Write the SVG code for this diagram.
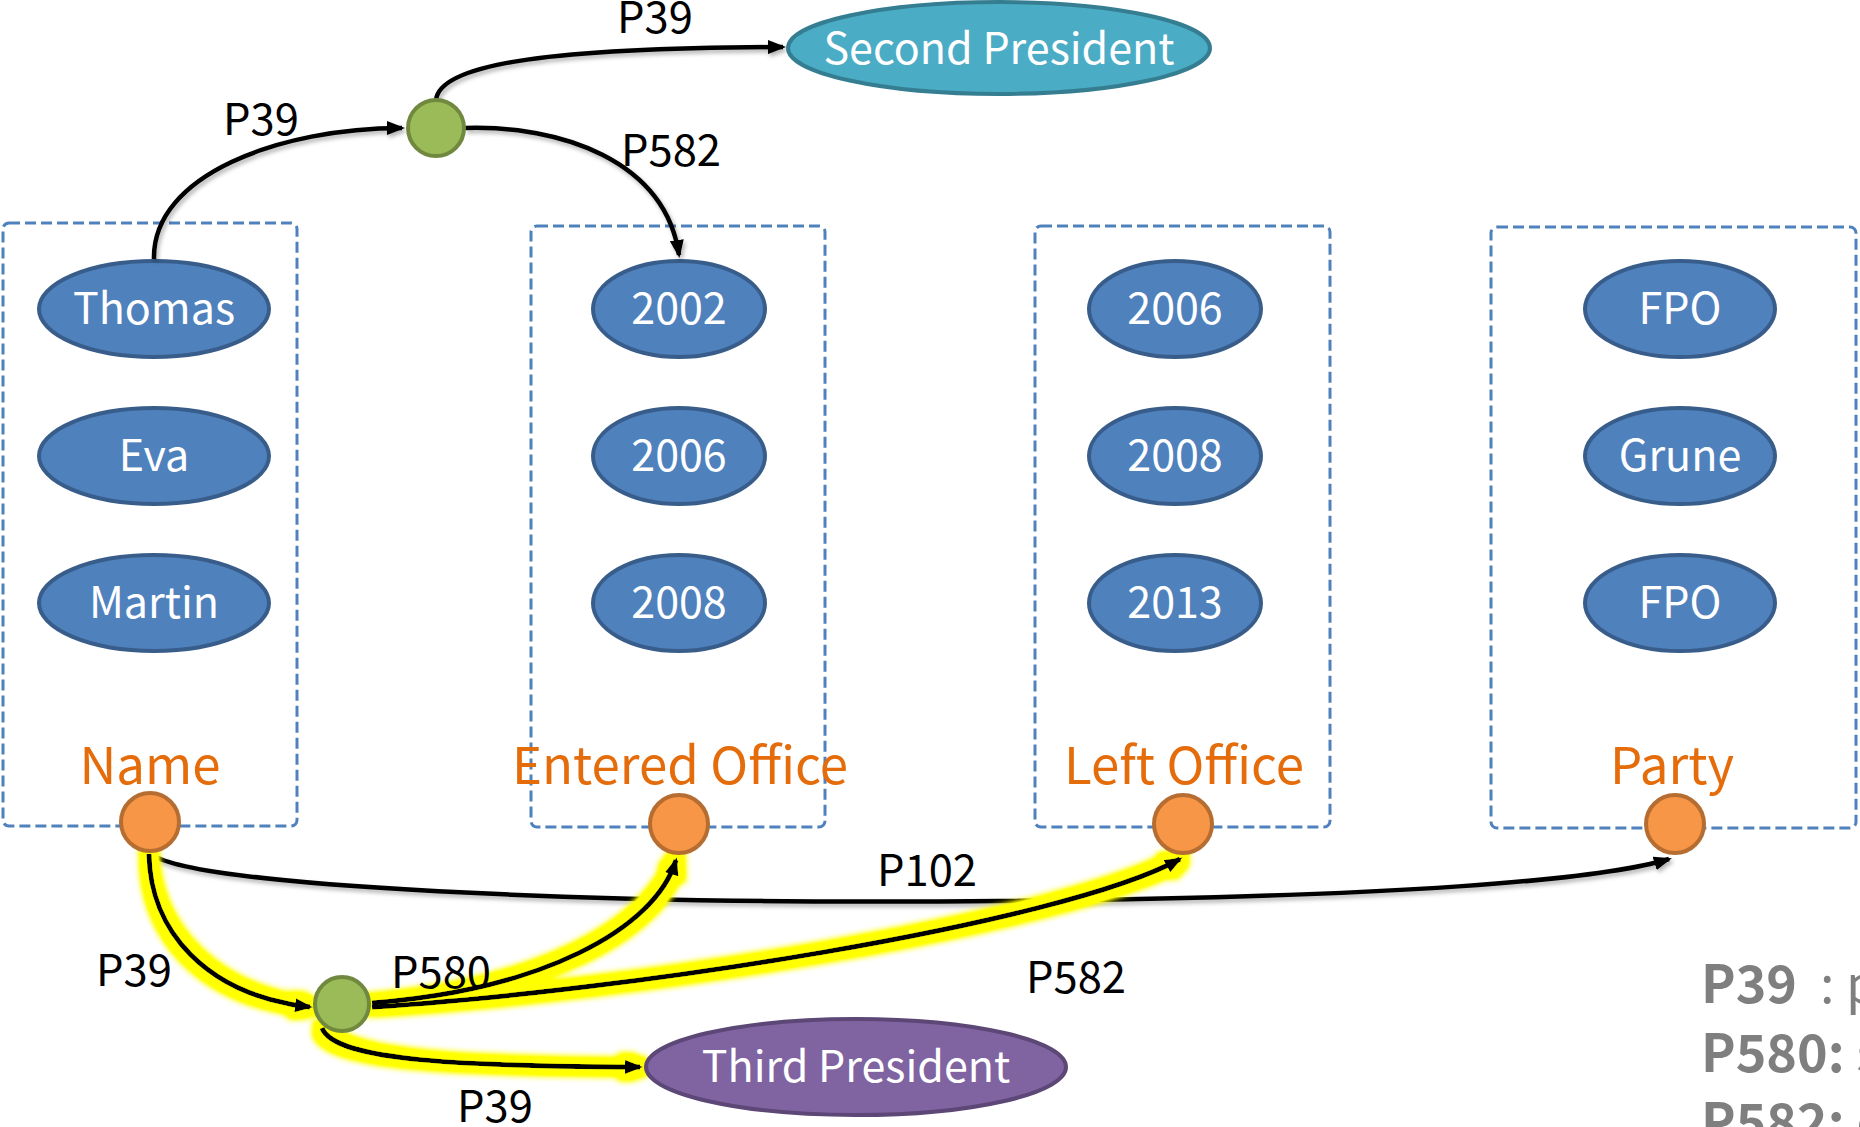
<svg xmlns="http://www.w3.org/2000/svg" width="1860" height="1127" viewBox="0 0 1860 1127">
<style>
  text { font-family: "Noto Sans CJK JP", "Open Sans", sans-serif; }
  .box { fill: none; stroke: #4F81BD; stroke-width: 3; stroke-dasharray: 11 5; }
  .blue { fill: #4F81BD; stroke: #385D8A; stroke-width: 4; }
  .teal { fill: #4BACC6; stroke: #357D91; stroke-width: 4; }
  .purple { fill: #8064A2; stroke: #5C4776; stroke-width: 4; }
  .green { fill: #9BBB59; stroke: #71893F; stroke-width: 4; }
  .orange { fill: #F79646; stroke: #B66D31; stroke-width: 4; }
  .nt { fill: #FFFFFF; font-size: 43px; text-anchor: middle; }
  .ot { fill: #E46C0A; font-size: 51px; text-anchor: middle; }
  .lbl { fill: #000000; font-size: 43.5px; }
  .edge { fill: none; stroke: #000000; stroke-width: 4.5; marker-end: url(#arr); }
  .hl { stroke-width: 5; }
  .leg { fill: #7F7F7F; font-size: 52px; font-weight: bold; }
  .legr { font-weight: normal; }
</style>
<defs>
  <marker id="arr" markerUnits="userSpaceOnUse" markerWidth="18" markerHeight="14" viewBox="0 0 18 14" refX="15" refY="7" orient="auto">
    <path d="M0,0 L18,7 L0,14 z" fill="#000000"/>
  </marker>
  <filter id="shadow" filterUnits="userSpaceOnUse" x="0" y="0" width="1860" height="1127">
    <feDropShadow dx="2" dy="3" stdDeviation="2" flood-color="#000000" flood-opacity="0.3"/>
  </filter>
  <filter id="glow" filterUnits="userSpaceOnUse" x="0" y="0" width="1860" height="1127">
    <feMorphology in="SourceAlpha" operator="dilate" radius="7" result="d"/>
    <feGaussianBlur in="d" stdDeviation="3" result="b"/>
    <feComponentTransfer in="b" result="b2"><feFuncA type="linear" slope="1.6"/></feComponentTransfer>
    <feFlood flood-color="#FFFF00" result="f"/>
    <feComposite in="f" in2="b2" operator="in" result="y"/>
    <feMerge><feMergeNode in="y"/><feMergeNode in="SourceGraphic"/></feMerge>
  </filter>
</defs>
<rect width="1860" height="1127" fill="#FFFFFF"/>

<g id="col-name">
  <rect class="box" x="3" y="223" width="294" height="603" rx="6"/>
  <text class="ot" x="150" y="784">Name</text>
</g>
<g id="col-entered">
  <rect class="box" x="531" y="226" width="294" height="601" rx="6"/>
  <text class="ot" x="680" y="784">Entered Office</text>
</g>
<g id="col-left">
  <rect class="box" x="1035" y="226" width="295" height="601" rx="6"/>
  <text class="ot" x="1184" y="784">Left Office</text>
</g>
<g id="col-party">
  <rect class="box" x="1491" y="227" width="365" height="601" rx="6"/>
  <text class="ot" x="1672" y="784">Party</text>
</g>

<g id="node-thomas"><ellipse class="blue" cx="154" cy="309" rx="115" ry="48"/><text class="nt" x="154" y="324">Thomas</text></g>
<g id="node-eva"><ellipse class="blue" cx="154" cy="456" rx="115" ry="48"/><text class="nt" x="154" y="471">Eva</text></g>
<g id="node-martin"><ellipse class="blue" cx="154" cy="603" rx="115" ry="48"/><text class="nt" x="154" y="618">Martin</text></g>

<g id="node-e2002"><ellipse class="blue" cx="679" cy="309" rx="86" ry="48"/><text class="nt" x="679" y="324">2002</text></g>
<g id="node-e2006"><ellipse class="blue" cx="679" cy="456" rx="86" ry="48"/><text class="nt" x="679" y="471">2006</text></g>
<g id="node-e2008"><ellipse class="blue" cx="679" cy="603" rx="86" ry="48"/><text class="nt" x="679" y="618">2008</text></g>

<g id="node-l2006"><ellipse class="blue" cx="1175" cy="309" rx="86" ry="48"/><text class="nt" x="1175" y="324">2006</text></g>
<g id="node-l2008"><ellipse class="blue" cx="1175" cy="456" rx="86" ry="48"/><text class="nt" x="1175" y="471">2008</text></g>
<g id="node-l2013"><ellipse class="blue" cx="1175" cy="603" rx="86" ry="48"/><text class="nt" x="1175" y="618">2013</text></g>

<g id="node-fpo1"><ellipse class="blue" cx="1680" cy="309" rx="95" ry="48"/><text class="nt" x="1680" y="324">FPO</text></g>
<g id="node-grune"><ellipse class="blue" cx="1680" cy="456" rx="95" ry="48"/><text class="nt" x="1680" y="471">Grune</text></g>
<g id="node-fpo2"><ellipse class="blue" cx="1680" cy="603" rx="95" ry="48"/><text class="nt" x="1680" y="618">FPO</text></g>

<g id="connectors">
  <g filter="url(#shadow)">
    <path class="edge" d="M154,259 C152,175 280,128 402,128"/>
    <path class="edge" d="M436,100 C440,62 560,48 783,47"/>
    <path class="edge" d="M465,128 C560,125 665,160 679,255"/>
    <path class="edge" d="M150,853 C185,887 600,905 1000,901 C1400,897 1600,880 1669,859"/>
  </g>
  <g filter="url(#glow)">
    <path class="edge hl" d="M149,854 C150,930 205,995 310,1007"/>
    <path class="edge hl" d="M372,1003 C540,990 655,930 676,860"/>
    <path class="edge hl" d="M372,1007 C620,992 1060,925 1180,859"/>
    <path class="edge hl" d="M322,1028 C335,1062 470,1066 640,1067"/>
  </g>
  <text class="lbl" x="617" y="33">P39</text>
  <text class="lbl" x="223" y="135">P39</text>
  <text class="lbl" x="621" y="166">P582</text>
  <text class="lbl" x="877" y="886">P102</text>
  <text class="lbl" x="96" y="986">P39</text>
  <text class="lbl" x="391" y="988">P580</text>
  <text class="lbl" x="1026" y="993">P582</text>
  <text class="lbl" x="457" y="1122">P39</text>
</g>

<g id="node-stmt1"><circle class="green" cx="436" cy="128" r="28"/></g>
<g id="node-stmt2"><circle class="green" cx="342" cy="1004" r="27"/></g>

<g id="node-name"><circle class="orange" cx="150" cy="822" r="29"/></g>
<g id="node-entered"><circle class="orange" cx="679" cy="824" r="29"/></g>
<g id="node-leftoffice"><circle class="orange" cx="1183" cy="824" r="29"/></g>
<g id="node-party"><circle class="orange" cx="1675" cy="824" r="29"/></g>

<g id="node-second"><ellipse class="teal" cx="999" cy="48" rx="211" ry="46"/><text class="nt" x="999" y="64">Second President</text></g>
<g id="node-third"><ellipse class="purple" cx="856" cy="1067" rx="210" ry="48"/><text class="nt" x="856" y="1082">Third President</text></g>

<g id="legend">
  <text class="leg" x="1701" y="1003">P39<tspan class="legr" x="1820">: p</tspan></text>
  <text class="leg" x="1701" y="1072">P580:<tspan class="legr"> s</tspan></text>
  <text class="leg" x="1701" y="1141">P582:<tspan class="legr"> e</tspan></text>
</g>
</svg>
